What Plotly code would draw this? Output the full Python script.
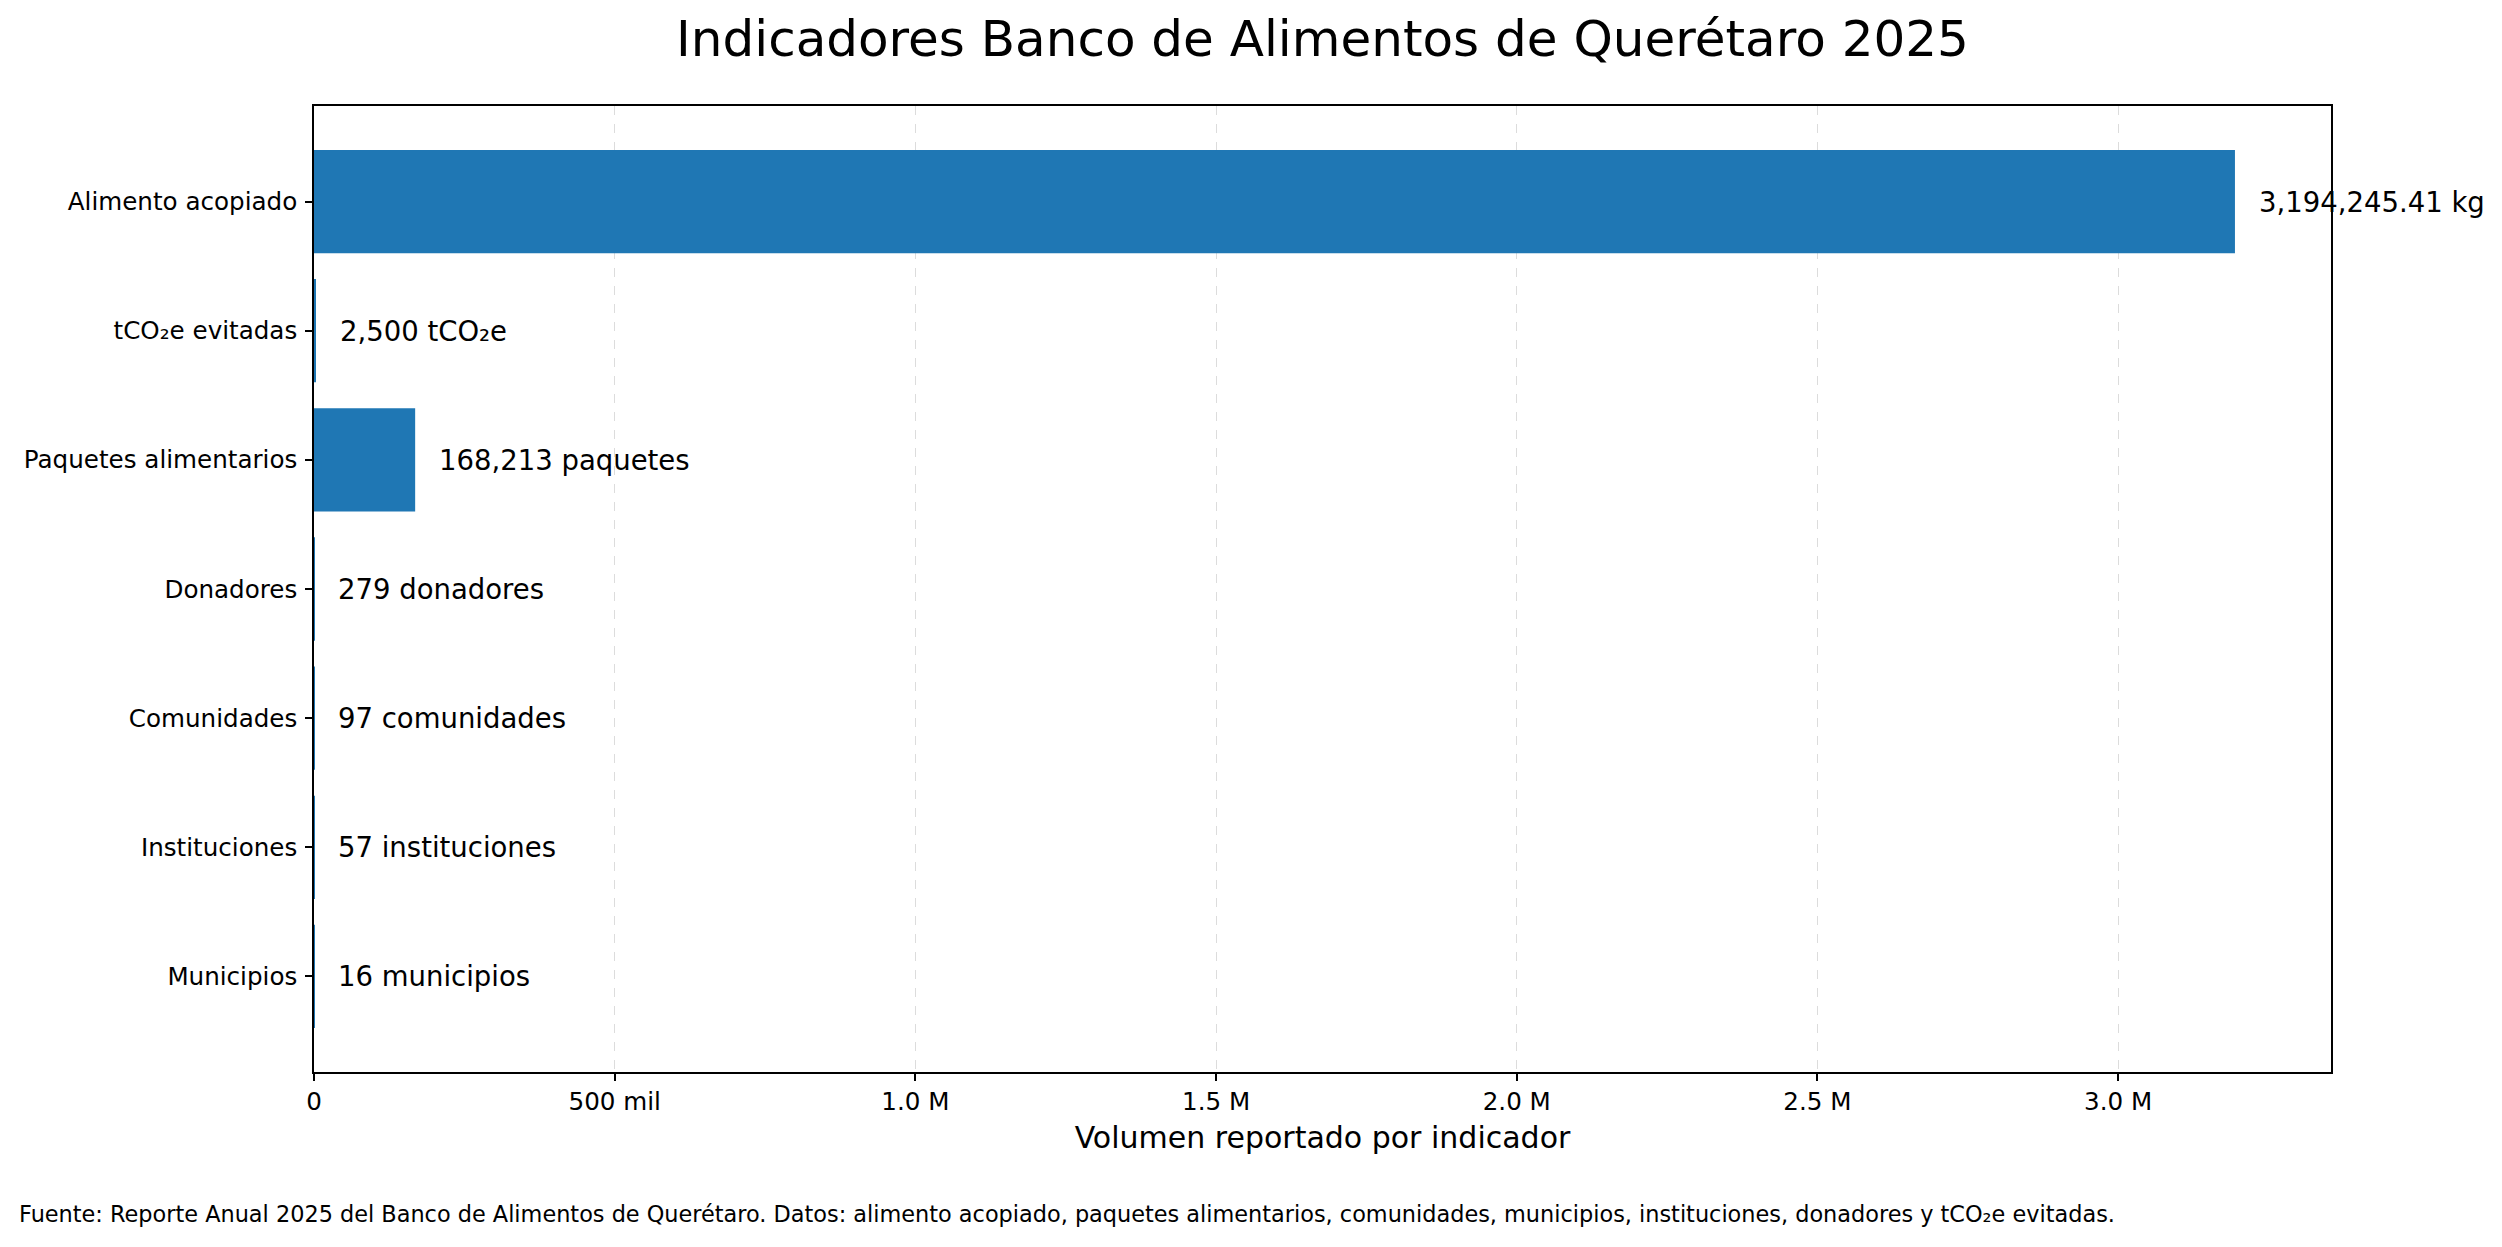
import plotly.graph_objects as go

categories = ["Alimento acopiado", "tCO₂e evitadas", "Paquetes alimentarios",
              "Donadores", "Comunidades", "Instituciones", "Municipios"]
values = [3194245.41, 2500, 168213, 279, 97, 57, 16]
value_labels = ["3,194,245.41 kg", "2,500 tCO₂e", "168,213 paquetes",
                "279 donadores", "97 comunidades", "57 instituciones", "16 municipios"]
x_tickvals = [0, 500000, 1000000, 1500000, 2000000, 2500000, 3000000]
x_ticktext = ["0", "500 mil", "1.0 M", "1.5 M", "2.0 M", "2.5 M", "3.0 M"]

title_text = "Indicadores Banco de Alimentos de Querétaro 2025"
xaxis_title = "Volumen reportado por indicador"
footnote = ("Fuente: Reporte Anual 2025 del Banco de Alimentos de Querétaro. Datos: alimento acopiado, "
            "paquetes alimentarios, comunidades, municipios, instituciones, donadores y tCO₂e evitadas.")

FONT = "DejaVu Sans"
W, H = 2502, 1247
L, R, T, B = 314, 171, 106, 175

fig = go.Figure()
fig.add_trace(go.Bar(
    y=categories, x=values, orientation="h", width=0.8,
    marker=dict(color="#1f77b4", line=dict(width=0)),
    hoverinfo="skip",
))

annotations = []
for c, v, lab in zip(categories, values, value_labels):
    annotations.append(dict(
        x=v, y=c, xref="x", yref="y", text=lab, showarrow=False,
        xanchor="left", yanchor="middle", xshift=22,
        font=dict(family=FONT, size=27.5, color="black"),
    ))

pw = W - L - R
ph = H - T - B
annotations.append(dict(
    x=(17 - L) / pw, y=(H - B - 1214) / ph, xref="paper", yref="paper",
    text=footnote, showarrow=False, xanchor="left", yanchor="middle",
    font=dict(family=FONT, size=22.4, color="black"),
))

xmax = max(values) * 1.05
fig.update_layout(
    width=W, height=H,
    margin=dict(l=L, r=R, t=T, b=B, autoexpand=False),
    paper_bgcolor="white", plot_bgcolor="white",
    font=dict(family=FONT, color="black"),
    showlegend=False,
    title=dict(text=title_text, x=(L + pw / 2) / W, xanchor="center",
               y=1 - 38 / H, yanchor="middle", yref="container",
               font=dict(family=FONT, size=50, color="black")),
    annotations=annotations,
    xaxis=dict(
        range=[0, xmax], tickvals=x_tickvals, ticktext=x_ticktext,
        showgrid=True, gridcolor="#dcdcdc", griddash="dash", gridwidth=1.2,
        zeroline=False, showline=True, linecolor="black", linewidth=1.6,
        mirror=True, ticks="outside", ticklen=7, tickwidth=1.5, tickcolor="black",
        tickfont=dict(family=FONT, size=24.6, color="black"),
        title=dict(text=xaxis_title, font=dict(family=FONT, size=30, color="black"),
                   standoff=12),
    ),
    yaxis=dict(
        type="category", categoryorder="array", categoryarray=categories,
        range=[len(categories) - 1 + 0.74, -0.74],
        showgrid=False, zeroline=False, showline=True, linecolor="black",
        linewidth=1.6, mirror=True, ticks="outside", ticklen=7, tickwidth=1.5,
        tickcolor="black", tickfont=dict(family=FONT, size=24.6, color="black"),
        ticklabelstandoff=3,
    ),
)

fig.write_html("out.html")
